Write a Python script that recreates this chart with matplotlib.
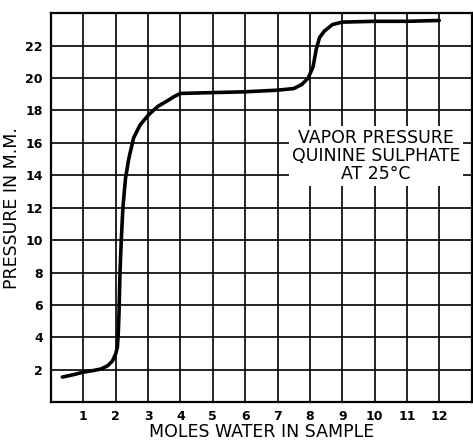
import matplotlib.pyplot as plt
import numpy as np

# vapor pressure of quinine sulphate at 25 C
moles_water = [0.35, 0.7, 1.0, 1.3, 1.55, 1.75, 1.9, 2.0, 2.05, 2.08, 2.1, 2.13,
               2.17, 2.22, 2.3, 2.4, 2.55, 2.75, 3.0, 3.3, 3.6, 3.8, 4.0, 5.0, 6.0,
               7.0, 7.5, 7.75, 7.95, 8.1, 8.2, 8.3, 8.45, 8.7, 9.0, 10.0, 11.0, 12.0]
pressure_mm = [1.55, 1.7, 1.85, 1.95, 2.05, 2.25, 2.55, 3.0, 3.4, 4.4, 5.5, 8.0,
               10.0, 12.0, 13.8, 15.0, 16.3, 17.1, 17.7, 18.25, 18.6, 18.85, 19.05, 19.1, 19.15,
               19.25, 19.35, 19.6, 20.0, 20.7, 21.8, 22.5, 22.9, 23.3, 23.45, 23.5, 23.5, 23.55]

x_ticks = np.arange(0, 14)
x_tick_labels = [""] + [str(i) for i in range(1, 13)] + [""]
y_ticks = np.arange(0, 26, 2)
y_tick_labels = [""] + [str(i) for i in range(2, 24, 2)] + [""]

fig = plt.figure(figsize=(4.73, 4.40), dpi=100)
ax = fig.add_axes([0.108, 0.086, 0.889, 0.884])

ax.plot(moles_water, pressure_mm, color="black", lw=2.6, solid_capstyle="round", zorder=3)

ax.set_xlim(0, 13)
ax.set_ylim(0, 24)
ax.set_xticks(x_ticks)
ax.set_xticklabels(x_tick_labels, fontsize=9, fontweight="bold")
ax.set_yticks(y_ticks)
ax.set_yticklabels(y_tick_labels, fontsize=9, fontweight="bold")
ax.tick_params(length=0, pad=6)
ax.grid(True, color="black", lw=1.2)
for s in ax.spines.values():
    s.set_linewidth(1.6)

ax.set_xlabel("MOLES WATER IN SAMPLE", fontsize=12.5, labelpad=0)
ax.set_ylabel("PRESSURE IN M.M.", fontsize=12.5, labelpad=3)

ax.text(10.05, 15.2, "VAPOR PRESSURE\nQUININE SULPHATE\nAT 25°C", ha="center", va="center",
        fontsize=12.5, linespacing=1.0, zorder=4,
        bbox=dict(facecolor="white", edgecolor="none", pad=2))

plt.savefig("out.png")
